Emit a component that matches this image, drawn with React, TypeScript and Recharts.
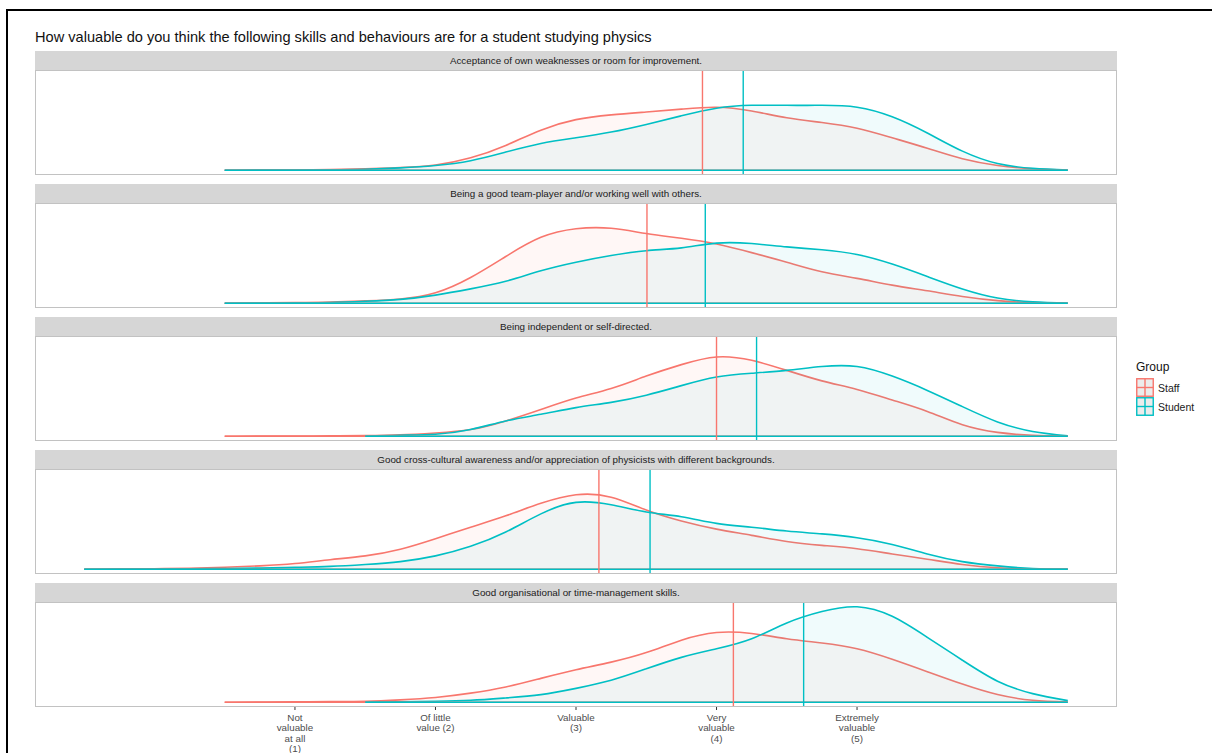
import React from 'react';
import { ComposedChart, Area, XAxis, YAxis, ReferenceLine } from 'recharts';

// ---------- data ----------
const chartTitle =
  'How valuable do you think the following skills and behaviours are for a student studying physics';

const panelTitles = [
  'Acceptance of own weaknesses or room for improvement.',
  'Being a good team-player and/or working well with others.',
  'Being independent or self-directed.',
  'Good cross-cultural awareness and/or appreciation of physicists with different backgrounds.',
  'Good organisational or time-management skills.',
];

const groups = ['Staff', 'Student'];

const xGrid = [
  -0.5, -0.25, 0, 0.25, 0.5, 0.75, 1, 1.25, 1.5, 1.75, 2, 2.25, 2.5, 2.75, 3, 3.25, 3.5, 3.75, 4,
  4.25, 4.5, 4.75, 5, 5.25, 5.5, 5.75, 6, 6.25, 6.5,
];

const N = null;

const staffDensity1 = [N, N, N, N, 0, 0.001, 0.003, 0.007, 0.014, 0.028, 0.055, 0.13, 0.26, 0.42, 0.53, 0.58, 0.61, 0.64, 0.66, 0.62, 0.55, 0.5, 0.44, 0.34, 0.23, 0.12, 0.05, 0.015, 0];
const studentDensity1 = [N, N, N, N, 0, 0.001, 0.002, 0.004, 0.01, 0.025, 0.05, 0.1, 0.19, 0.28, 0.34, 0.4, 0.48, 0.57, 0.65, 0.68, 0.68, 0.68, 0.66, 0.56, 0.39, 0.2, 0.07, 0.02, 0.002];

const staffDensity2 = [N, N, N, N, 0, 0.003, 0.006, 0.012, 0.025, 0.045, 0.11, 0.27, 0.49, 0.69, 0.78, 0.785, 0.73, 0.68, 0.62, 0.53, 0.43, 0.33, 0.26, 0.19, 0.13, 0.07, 0.027, 0.007, 0];
const studentDensity2 = [N, N, N, N, 0, 0.001, 0.004, 0.008, 0.02, 0.04, 0.085, 0.15, 0.23, 0.34, 0.43, 0.5, 0.55, 0.58, 0.63, 0.625, 0.59, 0.56, 0.51, 0.41, 0.28, 0.15, 0.055, 0.015, 0.002];

const staffDensity3 = [N, N, N, N, 0, 0.001, 0.002, 0.004, 0.006, 0.014, 0.034, 0.07, 0.16, 0.28, 0.4, 0.5, 0.63, 0.75, 0.83, 0.795, 0.69, 0.58, 0.49, 0.38, 0.26, 0.12, 0.04, 0.01, 0];
const studentDensity3 = [N, N, N, N, N, N, N, N, 0, 0.01, 0.02, 0.07, 0.16, 0.23, 0.3, 0.355, 0.43, 0.53, 0.62, 0.66, 0.69, 0.73, 0.73, 0.63, 0.48, 0.31, 0.15, 0.05, 0.005];

const staffDensity4 = [0, 0.002, 0.005, 0.01, 0.02, 0.035, 0.06, 0.1, 0.14, 0.21, 0.32, 0.44, 0.56, 0.69, 0.78, 0.755, 0.62, 0.505, 0.42, 0.355, 0.29, 0.25, 0.215, 0.16, 0.105, 0.05, 0.015, 0.003, 0];
const studentDensity4 = [0, 0.001, 0.003, 0.005, 0.008, 0.012, 0.02, 0.03, 0.05, 0.08, 0.14, 0.24, 0.39, 0.58, 0.7, 0.675, 0.6, 0.55, 0.48, 0.44, 0.4, 0.37, 0.33, 0.26, 0.16, 0.08, 0.035, 0.008, 0.001];

const staffDensity5 = [N, N, N, N, 0, 0.002, 0.004, 0.007, 0.01, 0.025, 0.05, 0.095, 0.16, 0.25, 0.34, 0.42, 0.52, 0.65, 0.73, 0.72, 0.665, 0.62, 0.56, 0.45, 0.32, 0.19, 0.08, 0.02, 0.003];
const studentDensity5 = [N, N, N, N, N, N, N, N, 0.002, 0.005, 0.01, 0.02, 0.045, 0.08, 0.145, 0.23, 0.35, 0.47, 0.56, 0.665, 0.83, 0.95, 1.0, 0.9, 0.68, 0.44, 0.22, 0.09, 0.017];

const staffMeans = [3.9, 3.505, 4.0, 3.163, 4.12];
const studentMeans = [4.19, 3.92, 4.285, 3.527, 4.62];

const tickValues = [1, 2, 3, 4, 5];
const tickLabelLines = [
  ['Not', 'valuable', 'at all', '(1)'],
  ['Of little', 'value (2)'],
  ['Valuable', '(3)'],
  ['Very', 'valuable', '(4)'],
  ['Extremely', 'valuable', '(5)'],
];

const staffSeries = [staffDensity1, staffDensity2, staffDensity3, staffDensity4, staffDensity5];
const studentSeries = [studentDensity1, studentDensity2, studentDensity3, studentDensity4, studentDensity5];

// ---------- style ----------
const STAFF = '#F8766D';
const STUDENT = '#00BFC4';
const FONT = '"Liberation Sans", Arial, Helvetica, sans-serif';
const X_DOMAIN: [number, number] = [-0.85, 6.85];
const Y_DOMAIN: [number, number] = [-0.05, 1.05];

const LEFT = 35;
const PLOT_W = 1082;
const STRIP_TOP0 = 51;
const PITCH = 133;
const STRIP_H = 19;
const PLOT_H = 105;
const AXIS_H = 46;

function extent(vals: (number | null)[]) {
  const xs = xGrid.filter((_, j) => vals[j] !== null && vals[j] !== undefined);
  return [xs[0], xs[xs.length - 1]];
}

const CustomTick = (props: any) => {
  const { x, y, payload } = props;
  const idx = tickValues.indexOf(payload.value);
  const lines = tickLabelLines[idx] || [];
  return (
    <text x={x} y={y} textAnchor="middle" fill="#4d4d4d" fontSize={9.8} fontFamily={FONT}>
      {lines.map((l, k) => (
        <tspan key={k} x={x} dy={k === 0 ? 8.5 : 10.5}>
          {l}
        </tspan>
      ))}
    </text>
  );
};

function Panel({ i }: { i: number }) {
  const rows = xGrid.map((x, j) => ({
    x,
    staff: staffSeries[i][j] === null ? undefined : staffSeries[i][j],
    student: studentSeries[i][j] === null ? undefined : studentSeries[i][j],
  }));
  const last = i === panelTitles.length - 1;
  const stripTop = STRIP_TOP0 + i * PITCH;
  const plotTop = stripTop + STRIP_H;
  const sExt = extent(staffSeries[i]);
  const tExt = extent(studentSeries[i]);
  return (
    <>
      <div
        style={{
          position: 'absolute',
          left: LEFT,
          top: stripTop,
          width: PLOT_W,
          height: STRIP_H,
          background: '#d6d6d6',
          color: '#1a1a1a',
          fontFamily: FONT,
          fontSize: 9.8,
          lineHeight: `${STRIP_H}px`,
          textAlign: 'center',
        }}
      >
        {panelTitles[i]}
      </div>
      <div style={{ position: 'absolute', left: LEFT, top: plotTop }}>
        <ComposedChart
          width={PLOT_W}
          height={PLOT_H + (last ? AXIS_H : 0)}
          data={rows}
          margin={{ top: 0, right: 0, bottom: 0, left: 0 }}
        >
          <XAxis
            type="number"
            dataKey="x"
            domain={X_DOMAIN}
            allowDataOverflow
            hide={!last}
            ticks={tickValues}
            interval={0}
            axisLine={false}
            tickLine={{ stroke: '#333333' }}
            tickSize={3}
            height={last ? AXIS_H : 0}
            tick={<CustomTick />}
          />
          <YAxis type="number" domain={Y_DOMAIN} allowDataOverflow hide />
          <Area
            type="natural"
            dataKey="staff"
            name={groups[0]}
            stroke={STAFF}
            strokeWidth={1.6}
            fill={STAFF}
            fillOpacity={0.06}
            baseValue={0}
            dot={false}
            activeDot={false}
            isAnimationActive={false}
          />
          <ReferenceLine
            segment={[{ x: sExt[0], y: 0 }, { x: sExt[1], y: 0 }]}
            stroke={STAFF}
            strokeWidth={1.6}
          />
          <Area
            type="natural"
            dataKey="student"
            name={groups[1]}
            stroke={STUDENT}
            strokeWidth={1.6}
            fill={STUDENT}
            fillOpacity={0.06}
            baseValue={0}
            dot={false}
            activeDot={false}
            isAnimationActive={false}
          />
          <ReferenceLine
            segment={[{ x: tExt[0], y: 0 }, { x: tExt[1], y: 0 }]}
            stroke={STUDENT}
            strokeWidth={1.6}
          />
          <ReferenceLine x={staffMeans[i]} stroke={STAFF} strokeWidth={1.4} />
          <ReferenceLine x={studentMeans[i]} stroke={STUDENT} strokeWidth={1.4} />
        </ComposedChart>
      </div>
      <div
        style={{
          position: 'absolute',
          left: LEFT,
          top: plotTop,
          width: PLOT_W,
          height: PLOT_H,
          border: '1px solid #c2c2c2',
          boxSizing: 'border-box',
          pointerEvents: 'none',
        }}
      />
    </>
  );
}

function LegendKey({ color, top }: { color: string; top: number }) {
  return (
    <svg style={{ position: 'absolute', left: 1136, top }} width={18} height={19}>
      <rect x={0.75} y={0.75} width={16.5} height={17.5} fill="#ececec" stroke={color} strokeWidth={1.4} />
      <line x1={9} y1={0.75} x2={9} y2={18.25} stroke={color} strokeWidth={1.4} />
      <line x1={0.75} y1={9.5} x2={17.25} y2={9.5} stroke={color} strokeWidth={1.4} />
    </svg>
  );
}

export default function App() {
  return (
    <div
      style={{
        position: 'absolute',
        left: 0,
        top: 0,
        width: 1212,
        height: 753,
        background: '#ffffff',
        overflow: 'hidden',
        fontFamily: FONT,
      }}
    >
      <div style={{ position: 'absolute', left: 6, top: 9, width: 2, height: 744, background: '#000' }} />
      <div style={{ position: 'absolute', left: 6, top: 9, width: 1206, height: 2, background: '#000' }} />
      <div
        style={{
          position: 'absolute',
          left: 35,
          top: 29,
          fontSize: 14.6,
          lineHeight: '16px',
          color: '#111',
          whiteSpace: 'nowrap',
        }}
      >
        {chartTitle}
      </div>
      {panelTitles.map((_, i) => (
        <Panel key={i} i={i} />
      ))}
      <div style={{ position: 'absolute', left: 1136, top: 360, fontSize: 12, lineHeight: '14px', color: '#111' }}>
        Group
      </div>
      <LegendKey color={STAFF} top={378} />
      <LegendKey color={STUDENT} top={397} />
      <div style={{ position: 'absolute', left: 1158, top: 382, fontSize: 10.5, lineHeight: '12px', color: '#1a1a1a' }}>
        {groups[0]}
      </div>
      <div style={{ position: 'absolute', left: 1158, top: 401, fontSize: 10.5, lineHeight: '12px', color: '#1a1a1a' }}>
        {groups[1]}
      </div>
    </div>
  );
}
